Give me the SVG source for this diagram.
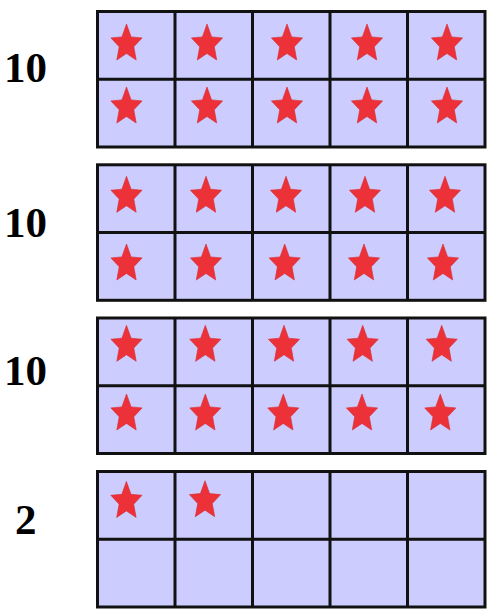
<svg xmlns="http://www.w3.org/2000/svg" xmlns:xlink="http://www.w3.org/1999/xlink" width="492" height="613" viewBox="0 0 492 613">
<style>
.cell{fill:#ccccff;stroke:#111;stroke-width:3}
.lbl{font-family:"Liberation Serif","Times New Roman",serif;font-weight:bold;font-size:43px;fill:#000}
.star{fill:#ec3238;stroke:#d62a2f;stroke-width:0.6}
</style>
<defs>
<path id="st" class="star" d="M0,-19.9 L4.6,-7.0 L15.6,-6.0 L7.3,2.9 L9.7,16.1 L0,9.6 L-9.7,16.1 L-7.3,2.9 L-15.6,-6.0 L-4.6,-7.0 Z"/>
<g id="frame">
<rect class="cell" x="97.5" y="0" width="387.5" height="135.5"/>
<path d="M97.5,67.8H485M175,0V135.5M252.5,0V135.5M330,0V135.5M407.5,0V135.5" stroke="#111" stroke-width="3" fill="none"/>
</g>
</defs>
<rect width="492" height="613" fill="#fff"/>
<g id="frame1">
<use xlink:href="#frame" y="11.5"/>
<text class="lbl" x="4" y="82">10</text>
<use xlink:href="#st" x="126.5" y="43.9"/><use xlink:href="#st" x="207" y="43.9"/><use xlink:href="#st" x="287" y="43.9"/><use xlink:href="#st" x="367" y="43.9"/><use xlink:href="#st" x="447" y="43.9"/>
<use xlink:href="#st" x="126.5" y="106.9"/><use xlink:href="#st" x="207" y="106.9"/><use xlink:href="#st" x="287" y="106.9"/><use xlink:href="#st" x="367" y="106.9"/><use xlink:href="#st" x="447" y="106.9"/>
</g>
<g id="frame2">
<use xlink:href="#frame" y="164.8"/>
<text class="lbl" x="4" y="236.7">10</text>
<use xlink:href="#st" x="126.5" y="196.2"/><use xlink:href="#st" x="206" y="196.2"/><use xlink:href="#st" x="286" y="196.2"/><use xlink:href="#st" x="365" y="196.2"/><use xlink:href="#st" x="445" y="196.2"/>
<use xlink:href="#st" x="126.5" y="263.9"/><use xlink:href="#st" x="206" y="263.9"/><use xlink:href="#st" x="284.7" y="263.9"/><use xlink:href="#st" x="364" y="263.9"/><use xlink:href="#st" x="443" y="263.9"/>
</g>
<g id="frame3">
<use xlink:href="#frame" y="318"/>
<text class="lbl" x="4" y="385">10</text>
<use xlink:href="#st" x="126.5" y="345.2"/><use xlink:href="#st" x="205.3" y="345.2"/><use xlink:href="#st" x="284" y="345.2"/><use xlink:href="#st" x="362.7" y="345.2"/><use xlink:href="#st" x="441.7" y="345.2"/>
<use xlink:href="#st" x="126.5" y="413.9"/><use xlink:href="#st" x="205.3" y="413.9"/><use xlink:href="#st" x="283.3" y="413.9"/><use xlink:href="#st" x="362" y="413.9"/><use xlink:href="#st" x="440.3" y="413.9"/>
</g>
<g id="frame4">
<use xlink:href="#frame" y="471.5"/>
<text class="lbl" x="15" y="534">2</text>
<use xlink:href="#st" x="126.4" y="501.3"/><use xlink:href="#st" x="205" y="500.6"/>
</g>
</svg>
